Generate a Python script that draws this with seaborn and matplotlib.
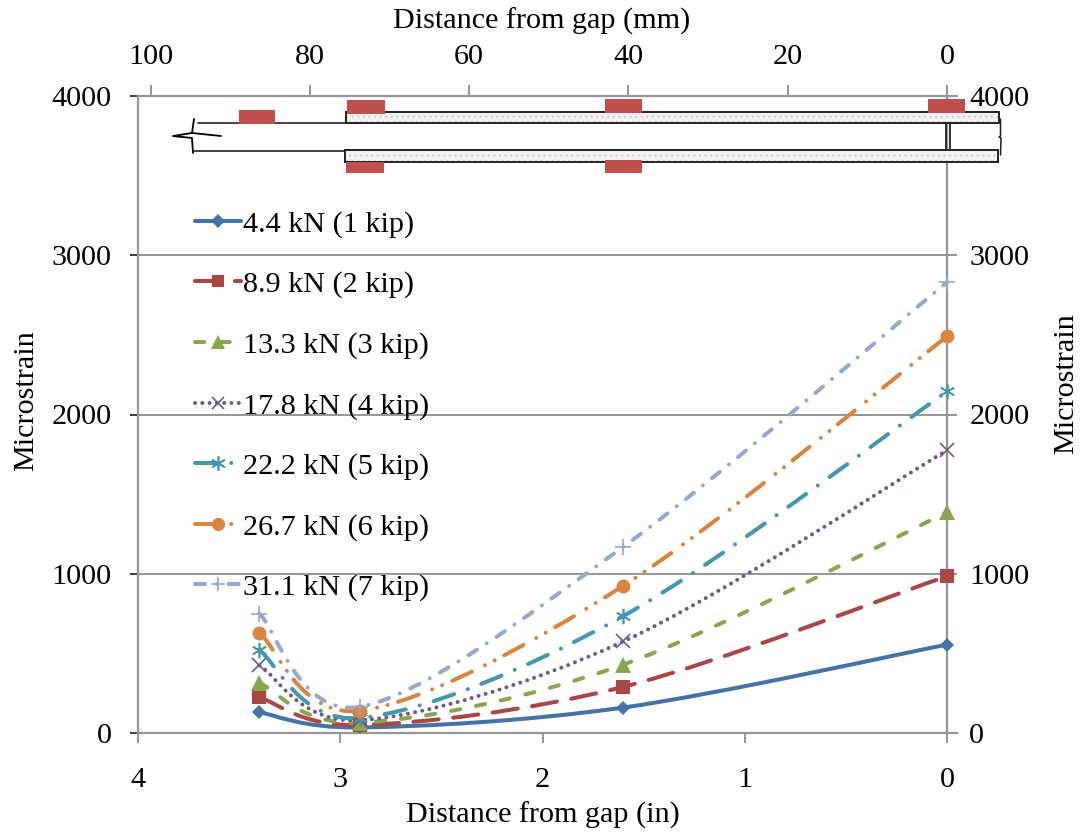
import numpy as np
import pandas as pd
import matplotlib
matplotlib.use("Agg")
import matplotlib.pyplot as plt
import seaborn as sns
from matplotlib.lines import Line2D
from matplotlib.patches import PathPatch, Rectangle
from matplotlib.path import Path

sns.set_theme(style="white")
plt.rcParams['font.family'] = ['Liberation Serif', 'DejaVu Serif']
plt.rcParams['hatch.linewidth'] = 0.7

distance_in = [3.4, 2.9, 1.6, 0.0]
load_labels = ["4.4 kN (1 kip)", "8.9 kN (2 kip)", "13.3 kN (3 kip)", "17.8 kN (4 kip)",
               "22.2 kN (5 kip)", "26.7 kN (6 kip)", "31.1 kN (7 kip)"]
strain_1 = [130, 35, 160, 555]
strain_2 = [225, 50, 290, 985]
strain_3 = [315, 65, 430, 1385]
strain_4 = [425, 80, 575, 1775]
strain_5 = [520, 95, 735, 2145]
strain_6 = [630, 140, 925, 2490]
strain_7 = [750, 165, 1170, 2830]
all_strain = [strain_1, strain_2, strain_3, strain_4, strain_5, strain_6, strain_7]

colors = ["#4572A7", "#AA4643", "#89A54E", "#71588F", "#4198AF", "#DB843D", "#93A9CF"]
markers = ["D", "s", "^", "x", (6, 2, 0), "o", "+"]
marker_sizes = [7, 9.7, 11, 9.5, 11, 10, 11]
line_styles = ["-", (0, (6.3, 3.6)), (0, (2.3, 4)), (0, (0.01, 1.8)), (0, (5.4, 3.6, 0.01, 3.6)),
               (0, (5.4, 3.6, 0.01, 2.7, 0.01, 2.7)), (0, (2.5, 2.9, 0.01, 2.9))]

W, H = 1081, 832
FS = 21.7
LW = 2.9
fig = plt.figure(figsize=(W / 100, H / 100), dpi=100)
# axes box runs a bit past zero because the top line does in the original
x0, x1, y_top, y_bot = 138, 957, 96, 733
ax = fig.add_axes([x0 / W, 1 - y_bot / H, (x1 - x0) / W, (y_bot - y_top) / H])
ax.set_xlim(4, -10 / 202.25)
ax.set_ylim(0, 4000)


def smooth_path(xs, ys):
    # same kind of bezier smoothing that the spreadsheet line uses
    verts = [(xs[0], ys[0])]
    codes = [Path.MOVETO]
    n = len(xs)
    for i in range(n - 1):
        a = max(i - 1, 0)
        b = min(i + 2, n - 1)
        c1 = (xs[i] + (xs[i + 1] - xs[a]) / 6, ys[i] + (ys[i + 1] - ys[a]) / 6)
        c2 = (xs[i + 1] - (xs[b] - xs[i]) / 6, ys[i + 1] - (ys[b] - ys[i]) / 6)
        verts += [c1, c2, (xs[i + 1], ys[i + 1])]
        codes += [Path.CURVE4, Path.CURVE4, Path.CURVE4]
    return Path(verts, codes)


rows = []
for label, vals in zip(load_labels, all_strain):
    for d, v in zip(distance_in, vals):
        rows.append({"distance": d, "strain": v, "load": label})
df = pd.DataFrame(rows)

handles = []
for i, label in enumerate(load_labels):
    part = df[df["load"] == label]
    ax.add_patch(PathPatch(smooth_path(list(part["distance"]), list(part["strain"])), fill=False,
                           edgecolor=colors[i], lw=LW, linestyle=line_styles[i], capstyle="round",
                           zorder=3, clip_on=False))
    sns.lineplot(data=part, x="distance", y="strain", ax=ax, linestyle="", marker=markers[i],
                 markersize=marker_sizes[i], color=colors[i], markeredgecolor=colors[i],
                 markeredgewidth=1.2 if i in (3, 4, 6) else 0, zorder=4, clip_on=False,
                 errorbar=None, legend=False)
    handles.append(Line2D([], [], color=colors[i], lw=LW, linestyle=line_styles[i], marker=markers[i],
                          markersize=marker_sizes[i] * 0.95, markeredgecolor=colors[i],
                          dash_capstyle="round", markeredgewidth=1.2 if i in (3, 4, 6) else 0))

grey = "#969696"
ax.set_xlabel("Distance from gap (in)", fontsize=FS, color="black", labelpad=6)
ax.set_ylabel("Microstrain", fontsize=FS, color="black", labelpad=9)
ax.xaxis.label.set_x((543 - x0) / (x1 - x0))
ax.yaxis.label.set_y(0.521)
ax.set_xticks([4, 3, 2, 1, 0])
ax.set_yticks([0, 1000, 2000, 3000, 4000])
ax.yaxis.grid(True, color=grey, lw=1.4, zorder=0)
ax.xaxis.grid(False)
ax.set_axisbelow(True)
ax.tick_params(axis="x", direction="out", length=7, width=1.4, color=grey, labelsize=FS, labelcolor="black", bottom=True, pad=17.5)
ax.tick_params(axis="y", left=False, labelsize=FS, labelcolor="black", pad=13)
for s in ["left", "bottom", "top"]:
    ax.spines[s].set_color(grey)
    ax.spines[s].set_linewidth(1.6)
ax.spines["right"].set_visible(False)

# right hand axis, sits on the zero line
right = ax.twinx()
right.set_ylim(0, 4000)
right.set_yticks([0, 1000, 2000, 3000, 4000])
right.grid(False)
for s in right.spines.values():
    s.set_visible(False)
right.spines["right"].set_visible(True)
right.spines["right"].set_position(("data", 0))
right.spines["right"].set_color(grey)
right.spines["right"].set_linewidth(1.6)
right.tick_params(axis="y", right=False, labelsize=FS, labelcolor="black", pad=10)
right.set_ylabel("Microstrain", fontsize=FS, color="black", rotation=90, labelpad=17)
right.yaxis.label.set_y(0.548)
right.set_zorder(0)
ax.set_zorder(1)
ax.patch.set_visible(False)

top = ax.secondary_xaxis("top", functions=(lambda x: x * 25.4, lambda x: x / 25.4))
top.set_xticks([100, 80, 60, 40, 20, 0])
top.tick_params(axis="x", direction="out", length=8, width=1.4, color=grey, labelsize=FS, labelcolor="black", pad=11)
top.spines["top"].set_visible(False)
top.set_xlabel("Distance from gap (mm)", fontsize=FS, color="black", labelpad=11)
top.xaxis.label.set_x((542 - x0) / (x1 - x0))

leg = ax.legend(handles, load_labels, loc="upper left", bbox_to_anchor=(0.07, 0.8205), frameon=False, fontsize=FS,
                labelspacing=1.1, handlelength=1.5, handletextpad=0.07, borderpad=0, borderaxespad=0,
                labelcolor="black")

# specimen sketch on top of the plot, in picture pixels
sk = fig.add_axes([0, 0, 1, 1], zorder=5)
sk.set_xlim(0, W)
sk.set_ylim(H, 0)
sk.axis("off")
ink = "#222222"
for rx, ry, rw, rh in [(346, 112, 653, 11), (345, 149.5, 653, 12.5)]:
    sk.add_patch(Rectangle((rx, ry), rw, rh, facecolor="#F2F2F2", edgecolor="#CDCDCD", hatch="...", lw=0))
    sk.add_patch(Rectangle((rx, ry), rw, rh, fill=False, edgecolor=ink, lw=1.4))
sk.plot([198, 346], [123, 123], color=ink, lw=1.2)
sk.plot([194, 345], [150.5, 150.5], color=ink, lw=1.2)
sk.plot([194, 192, 173, 192, 193], [119, 133, 136, 138, 153], color="black", lw=1.3)
sk.plot([192, 221], [133, 136], color="black", lw=1.3)
sk.plot([946, 946], [123, 149], color=ink, lw=1.3)
sk.plot([950, 950], [123, 149], color=ink, lw=1.3)
sk.plot([1000.5, 1000.5, 999, 1001, 1000.5], [119, 136, 137, 138, 155], color=ink, lw=1.1)
for rx, ry, rw, rh in [(239, 110, 36, 14), (347, 100, 38, 14), (346, 162, 38, 11),
                       (605, 99, 37, 14), (605, 160, 37, 13), (928, 99, 37, 14)]:
    sk.add_patch(Rectangle((rx, ry), rw, rh, facecolor="#C0504D", edgecolor="none", zorder=4))

fig.savefig("out.png", dpi=100)
